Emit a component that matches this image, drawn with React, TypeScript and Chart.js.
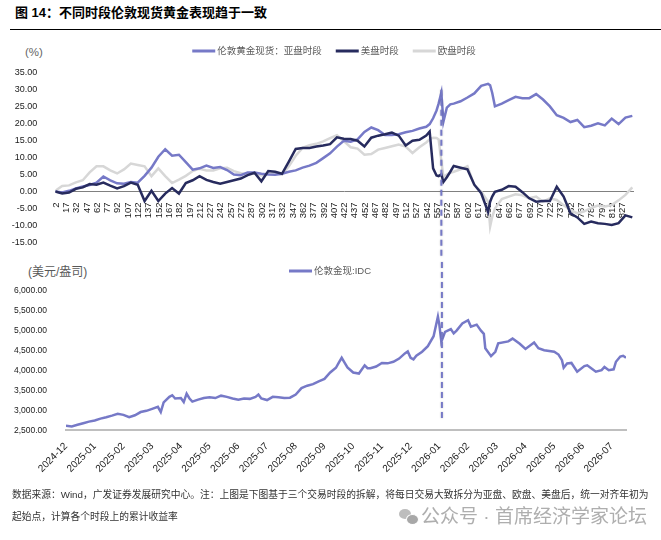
import React, { useEffect, useRef } from 'react';
import { Chart, registerables } from 'chart.js';

Chart.register(...registerables);

// ---------- Top chart: cumulative return by trading session (%) ----------
const sessionIndex = [
  1, 11, 21, 31, 41, 51, 61, 71, 81, 91, 101, 111, 121, 131, 141, 151, 161, 171, 181, 191,
  201, 211, 221, 231, 241, 251, 261, 271, 281, 291, 301, 311, 321, 331, 341, 351, 361, 371, 381, 391,
  401, 411, 421, 431, 441, 451, 461, 471, 481, 491, 501, 511, 521, 531, 541, 546, 551, 556, 559, 563,
  566, 571, 576, 581, 591, 601, 611, 621, 631, 634, 637, 641, 651, 661, 671, 681, 691, 701, 711, 721,
  731, 741, 751, 761, 771, 781, 791, 801, 811, 821, 831, 841,
];
const asiaSession = [
  0, -0.3, 0.2, 0.9, 1.5, 1.9, 2.6, 4.4, 3.3, 2.4, 2.3, 2.8, 2.6, 4.6, 7.0, 10.2, 12.4, 10.5, 10.8, 8.6,
  6.4, 6.8, 7.6, 6.9, 7.2, 6.3, 5.0, 4.8, 5.6, 5.6, 5.2, 5.0, 4.9, 5.2, 5.8, 6.2, 7.0, 7.6, 8.4, 9.8,
  11.2, 13.2, 14.9, 14.6, 15.3, 17.5, 18.8, 18.0, 16.6, 16.6, 16.8, 17.4, 17.8, 18.5, 19.0, 19.8, 21.5, 23.8, 25.8, 29.0,
  20.5, 24.6, 25.6, 25.8, 26.5, 27.6, 28.8, 31.0, 31.6, 31.2, 29.0, 25.0, 25.8, 26.8, 27.8, 27.4, 27.4, 28.6, 27.0, 25.0,
  22.4, 21.6, 20.4, 21.0, 18.9, 19.3, 20.0, 19.4, 21.4, 19.8, 21.7, 22.2,
];
const usSession = [
  0, -0.6, -0.3, 0.8, 1.2, 2.2, 2.0, 2.6, 1.7, 0.9, 1.6, 2.6, 2.0, -2.8, 0.2, -2.8, -0.6, 1.0, -0.6, 2.5,
  3.3, 4.5, 3.4, 2.8, 2.3, 2.8, 3.3, 3.8, 4.8, 5.5, 3.0, 6.0, 5.8, 5.2, 8.8, 12.5, 12.8, 12.8, 13.2, 13.5,
  13.9, 15.9, 15.5, 15.4, 14.9, 13.2, 15.8, 16.4, 16.8, 17.3, 16.4, 13.5, 14.9, 15.2, 16.4, 17.6, 6.8, 4.7, 4.5, 5.0,
  2.8, 4.2, 5.8, 7.5, 7.0, 6.5, 2.0, -0.5, -6.0, -3.0, -1.5, -0.1, 0.5, 1.6, 1.4, -0.2, -2.0, -3.0, -2.8, -2.8,
  1.4, -1.5, -6.4, -7.6, -9.5, -8.8, -9.3, -9.5, -9.8, -9.3, -7.0, -7.6,
];
const europeSession = [
  0.2, 1.6, 1.8, 2.7, 3.3, 5.6, 7.4, 7.4, 6.2, 5.3, 6.5, 8.2, 7.8, 7.4, 4.5, 6.8, 4.5, 2.5, 3.5, 4.6,
  6.0, 6.7, 6.2, 6.2, 6.8, 7.0, 6.0, 5.4, 5.0, 5.3, 4.7, 5.3, 5.4, 5.0, 7.4, 10.5, 12.8, 13.6, 14.0, 14.7,
  15.7, 16.5, 14.8, 13.0, 12.6, 10.8, 11.0, 12.3, 12.8, 13.3, 13.8, 13.2, 11.3, 13.0, 14.4, 15.3, 15.8, 15.7, 15.3, 9.0,
  4.3, 5.0, 5.5, 5.8, 6.5, 7.4, 1.8, 0.0, -3.0, -10.3, -7.5, -5.0, -2.2, -1.5, -0.8, -1.1, -2.0, -1.5, -3.0, -2.0,
  -2.5, -4.0, -5.4, -6.4, -5.8, -4.8, -4.1, -4.4, -4.0, -2.6, -1.0, 1.2,
];
const sessionTicks = [
  2, 17, 32, 47, 62, 77, 92, 107, 122, 137, 152, 167, 182, 197, 212, 227, 242, 257, 272, 287,
  302, 317, 332, 347, 362, 377, 392, 407, 422, 437, 452, 467, 482, 497, 512, 527, 542, 557, 572, 587,
  602, 617, 632, 647, 662, 677, 692, 707, 722, 737, 752, 767, 782, 797, 812, 827,
];
const sessionLabels = ['伦敦黄金现货：亚盘时段', '美盘时段', '欧盘时段'];

// ---------- Bottom chart: London spot gold (USD/oz) ----------
const monthLabels = [
  '2024-12', '2025-01', '2025-02', '2025-03', '2025-04', '2025-05', '2025-06', '2025-07', '2025-08', '2025-09',
  '2025-10', '2025-11', '2025-12', '2026-01', '2026-02', '2026-03', '2026-04', '2026-05', '2026-06', '2026-07',
];
const monthPos = [
  0, 0.2, 0.4, 0.6, 0.8, 1.0, 1.2, 1.4, 1.6, 1.8, 2.0, 2.2, 2.4, 2.6, 2.8, 3.0, 3.2, 3.3, 3.4, 3.6,
  3.7, 3.8, 4.0, 4.1, 4.2, 4.3, 4.4, 4.6, 4.8, 5.0, 5.2, 5.4, 5.6, 5.8, 6.0, 6.2, 6.4, 6.6, 6.7, 6.8,
  7.0, 7.2, 7.4, 7.6, 7.8, 8.0, 8.2, 8.4, 8.6, 8.8, 9.0, 9.2, 9.4, 9.5, 9.6, 9.7, 9.8, 10.0, 10.2, 10.4,
  10.5, 10.6, 10.8, 11.0, 11.2, 11.4, 11.6, 11.8, 11.9, 12.0, 12.1, 12.2, 12.4, 12.6, 12.8, 12.95, 13.0, 13.07, 13.2, 13.4,
  13.5, 13.6, 13.8, 14.0, 14.1, 14.3, 14.45, 14.55, 14.6, 14.8, 14.95, 15.05, 15.4, 15.55, 15.8, 16.0, 16.3, 16.45, 16.65, 17.0,
  17.15, 17.27, 17.33, 17.45, 17.6, 17.8, 18.05, 18.15, 18.3, 18.45, 18.65, 18.75, 18.9, 19.07, 19.15, 19.3, 19.4, 19.5,
];
const goldPrice = [
  2615, 2600, 2640, 2680, 2720, 2750, 2795, 2830, 2870, 2915, 2890, 2830, 2880, 2960, 2990, 3040, 3090, 2960, 3200, 3340,
  3380, 3300, 3310, 3210, 3420, 3300, 3220, 3270, 3310, 3330, 3310, 3370, 3340, 3300, 3270, 3300, 3290, 3340, 3400, 3300,
  3260, 3340, 3330, 3310, 3320, 3400, 3560, 3620, 3660, 3730, 3790, 3950, 4070, 4200, 4320, 4200, 4080, 3950, 3925, 4130,
  4060, 4060, 4100, 4190, 4180, 4220, 4300, 4430, 4480, 4320, 4280, 4370, 4470, 4610, 4860, 5350, 5150, 4720, 4970, 5040,
  4930, 5000, 5180, 5260, 5100, 5150, 5000, 4920, 4560, 4360, 4470, 4680, 4730, 4800, 4670, 4540, 4700, 4560, 4510, 4470,
  4400, 4260, 4070, 4175, 4190, 3970, 4110, 4130, 4050, 3970, 4010, 4090, 4010, 4030, 4220, 4350, 4370, 4320,
];
const goldLabel = '伦敦金现:IDC';

// marker (dashed vertical line) location in each chart's own units
const markerSession = 563;
const markerMonth = 13.09;

const BLUE = '#7679C7';
const NAVY = '#272B5E';
const GRAY = '#D7D7D7';
const FONT = '"Liberation Sans", Arial, "Noto Sans CJK SC", sans-serif';
const CJK = '"Liberation Sans", Arial, "Noto Sans CJK SC", "Noto Sans CJK JP", sans-serif';

const inlineLegend = {
  id: 'inlineLegend',
  afterDraw(chart: any, _args: any, opts: any) {
    if (!opts || !opts.display) return;
    const ctx = chart.ctx;
    ctx.save();
    ctx.font = `${opts.fontSize}px ${CJK}`;
    const items = chart.data.datasets.map((ds: any) => ({ label: ds.label, color: ds.borderColor }));
    const widths = items.map((it: any) => opts.lineLength + opts.gap + ctx.measureText(it.label).width);
    const total = widths.reduce((a: number, b: number) => a + b, 0) + opts.spacing * (items.length - 1);
    let x = opts.centerX - total / 2;
    const y = opts.y;
    items.forEach((it: any, i: number) => {
      ctx.strokeStyle = it.color;
      ctx.lineWidth = opts.lineWidth;
      ctx.beginPath();
      ctx.moveTo(x, y);
      ctx.lineTo(x + opts.lineLength, y);
      ctx.stroke();
      ctx.fillStyle = opts.color;
      ctx.textBaseline = 'middle';
      ctx.textAlign = 'left';
      ctx.fillText(it.label, x + opts.lineLength + opts.gap, y + 0.5);
      x += widths[i] + opts.spacing;
    });
    ctx.restore();
  },
};

const markerLine = {
  id: 'markerLine',
  afterDatasetsDraw(chart: any, _args: any, opts: any) {
    if (!opts || opts.value === undefined) return;
    const ctx = chart.ctx;
    const px = chart.scales.x.getPixelForValue(opts.value);
    const y1 = opts.from === 'edge' ? 0 : chart.scales.y.getPixelForValue(opts.from);
    const y2 = opts.to === 'edge' ? chart.height : chart.scales.y.getPixelForValue(opts.to);
    ctx.save();
    ctx.strokeStyle = opts.color;
    ctx.lineWidth = opts.width;
    ctx.setLineDash([opts.dash, opts.gap]);
    ctx.lineDashOffset = opts.offset || 0;
    ctx.shadowColor = 'rgba(0,0,0,0.25)';
    ctx.shadowBlur = 2;
    ctx.beginPath();
    ctx.moveTo(px, y1);
    ctx.lineTo(px, y2);
    ctx.stroke();
    ctx.restore();
  },
};

function TopChart() {
  const ref = useRef<HTMLCanvasElement | null>(null);
  useEffect(() => {
    if (!ref.current) return;
    const mk = (vals: number[]) => sessionIndex.map((x, i) => ({ x, y: vals[i] }));
    const chart = new Chart(ref.current, {
      type: 'line',
      data: {
        datasets: [
          { label: sessionLabels[0], data: mk(asiaSession), borderColor: BLUE, backgroundColor: BLUE, borderWidth: 2.5, pointRadius: 0, order: 2 },
          { label: sessionLabels[1], data: mk(usSession), borderColor: NAVY, backgroundColor: NAVY, borderWidth: 2.5, pointRadius: 0, order: 1 },
          { label: sessionLabels[2], data: mk(europeSession), borderColor: GRAY, backgroundColor: GRAY, borderWidth: 2.5, pointRadius: 0, order: 3 },
        ],
      },
      plugins: [inlineLegend, markerLine],
      options: {
        animation: false,
        responsive: false,
        maintainAspectRatio: false,
        layout: { padding: { top: 32.3, right: 28, bottom: 0, left: 0 } },
        plugins: {
          legend: { display: false },
          tooltip: { enabled: false },
          inlineLegend: { display: true, centerX: 334, y: 11, fontSize: 9.5, lineLength: 23, gap: 2, spacing: 14, lineWidth: 3, color: '#595959' },
          markerLine: { value: markerSession, from: 29.9, to: 'edge', color: BLUE, width: 2, dash: 6, gap: 4 },
        } as any,
        scales: {
          x: {
            type: 'linear',
            min: 1,
            max: 842,
            position: { y: 0 } as any,
            grid: { display: false },
            border: { display: true, color: '#808080', width: 1 },
            afterBuildTicks: (s: any) => { s.ticks = sessionTicks.map((v) => ({ value: v })); },
            afterFit: (s: any) => { s.height = 14.7; },
            ticks: {
              autoSkip: false,
              minRotation: 90,
              maxRotation: 90,
              padding: 3,
              color: '#1a1a1a',
              font: { size: 9.5, family: FONT },
              callback: (v: any) => String(v),
            },
          },
          y: {
            min: -15,
            max: 35,
            grid: { display: false },
            border: { display: false },
            afterFit: (s: any) => { s.width = 55.3; },
            ticks: {
              stepSize: 5,
              padding: 10,
              color: '#1a1a1a',
              font: { size: 9, family: FONT },
              callback: (v: any) => Number(v).toFixed(2),
            },
          },
        },
      },
    } as any);
    return () => chart.destroy();
  }, []);
  return <canvas ref={ref} width={661} height={218} style={{ position: 'absolute', left: 0, top: 40, width: 661, height: 218 }} />;
}

function BottomChart() {
  const ref = useRef<HTMLCanvasElement | null>(null);
  useEffect(() => {
    if (!ref.current) return;
    const chart = new Chart(ref.current, {
      type: 'line',
      data: {
        datasets: [
          { label: goldLabel, data: monthPos.map((x, i) => ({ x, y: goldPrice[i] })), borderColor: BLUE, backgroundColor: BLUE, borderWidth: 2.5, pointRadius: 0 },
        ],
      },
      plugins: [inlineLegend, markerLine],
      options: {
        animation: false,
        responsive: false,
        maintainAspectRatio: false,
        layout: { padding: { top: 32.7, right: 35, bottom: 0, left: 0 } },
        plugins: {
          legend: { display: false },
          tooltip: { enabled: false },
          inlineLegend: { display: true, centerX: 330, y: 13, fontSize: 9.5, lineLength: 23, gap: 2, spacing: 14, lineWidth: 3, color: '#595959' },
          markerLine: { value: markerMonth, from: 'edge', to: 2740, color: BLUE, width: 2, dash: 6, gap: 4, offset: 6 },
        } as any,
        scales: {
          x: {
            type: 'linear',
            min: 0,
            max: 19.5,
            grid: { display: false },
            border: { display: true, color: '#BFBFBF', width: 2 },
            afterBuildTicks: (s: any) => { s.ticks = monthLabels.map((_, i) => ({ value: i })); },
            afterFit: (s: any) => { s.height = 57.6; },
            ticks: {
              autoSkip: false,
              minRotation: 45,
              maxRotation: 45,
              padding: 2,
              color: '#1a1a1a',
              font: { size: 10, family: FONT },
              callback: (v: any) => monthLabels[Math.round(Number(v))] ?? '',
            },
          },
          y: {
            min: 2500,
            max: 6000,
            grid: { display: false },
            border: { display: false },
            afterFit: (s: any) => { s.width = 66; },
            ticks: {
              stepSize: 500,
              padding: 11,
              color: '#1a1a1a',
              font: { size: 8.5, family: FONT },
              callback: (v: any) => Number(v).toLocaleString('en-US', { minimumFractionDigits: 2, maximumFractionDigits: 2 }),
            },
          },
        },
      },
    } as any);
    return () => chart.destroy();
  }, []);
  return <canvas ref={ref} width={661} height={230} style={{ position: 'absolute', left: 0, top: 258, width: 661, height: 230 }} />;
}

export default function App() {
  const abs: React.CSSProperties = { position: 'absolute', whiteSpace: 'nowrap', fontFamily: CJK };
  return (
    <div style={{ position: 'absolute', left: 0, top: 0, width: 661, height: 540, background: '#fff', overflow: 'hidden' }}>
      <div style={{ ...abs, left: 15, top: 3, fontSize: 13, lineHeight: '20px', color: '#000', fontWeight: 'bold' }}>
        图 14：不同时段伦敦现货黄金表现趋于一致
      </div>
      <div style={{ position: 'absolute', left: 10, top: 29, width: 651, height: 1, background: '#000' }} />
      <div style={{ ...abs, left: 25, top: 44, fontSize: 11.5, lineHeight: '16px', color: '#666' }}>(%)</div>
      <div style={{ ...abs, left: 28, top: 264, fontSize: 12, lineHeight: '16px', color: '#595959' }}>(美元/盎司)</div>
      <TopChart />
      <BottomChart />
      <div style={{ ...abs, left: 12, top: 484, fontSize: 9.75, lineHeight: '22px', color: '#333' }}>
        数据来源：Wind，广发证券发展研究中心。注：上图是下图基于三个交易时段的拆解，将每日交易大致拆分为亚盘、欧盘、美盘后，统一对齐年初为
        <br />
        起始点，计算各个时段上的累计收益率
      </div>
      <div style={{ position: 'absolute', left: 399, top: 509, width: 12, height: 10, borderRadius: '50%', background: '#bdbdbd' }} />
      <div style={{ position: 'absolute', left: 406, top: 514, width: 11, height: 9, borderRadius: '50%', background: '#a8a8a8', border: '1px solid #fff' }} />
      <div style={{ ...abs, left: 421, top: 505, fontSize: 19, lineHeight: '24px', color: 'rgba(160,160,160,0.85)' }}>
        公众号 · 首席经济学家论坛
      </div>
    </div>
  );
}
